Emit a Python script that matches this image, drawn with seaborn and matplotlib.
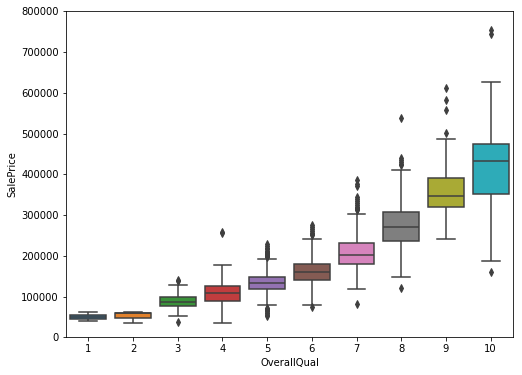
import numpy as np
import pandas as pd
import matplotlib
matplotlib.use("Agg")
import matplotlib.pyplot as plt
import seaborn as sns

# box stats, one entry per OverallQual
quals = ["1", "2", "3", "4", "5", "6", "7", "8", "9", "10"]
whisk_lo = [39300, 35311, 52300, 35100, 79300, 80000, 118500, 148000, 240500, 187200]
q1 = [44725, 47655, 76800, 88300, 118500, 140000, 179100, 236300, 319000, 351700]
med = [50150, 60000, 85600, 109700, 133300, 161200, 202000, 270000, 346800, 432000]
q3 = [55575, 60500, 100000, 126000, 148000, 181000, 231400, 307500, 391000, 473600]
whisk_hi = [61000, 61000, 129000, 177400, 191000, 241500, 302600, 409800, 486700, 626500]
fliers_lo = [[], [], [37600], [], [72500, 70000, 67000, 64000, 60000, 58500, 55000, 52000],
             [75500], [82700], [122000], [], [160000]]
fliers_hi = [[], [], [139000, 141000], [256000, 258000],
             [198000, 200000, 202500, 205000, 207500, 210000, 213000, 216000, 220000, 224000, 229000],
             [250000, 253000, 256000, 260000, 265000, 270000, 275000],
             [312000, 315000, 318000, 320000, 325000, 330000, 335000, 340000, 345000, 372000, 377000, 385000],
             [424000, 426000, 430000, 435000, 440000, 538000],
             [502400, 557000, 583300, 612800],
             [745000, 755000]]

# turn the stats into a sample whose quartiles land exactly on the read values
rows = []
for i, q in enumerate(quals):
    m = 60
    vals = (fliers_lo[i] + [whisk_lo[i]] + [q1[i]] * m + [med[i]] * m
            + [q3[i]] * m + [whisk_hi[i]] + fliers_hi[i])
    for v in vals:
        rows.append((q, v))
df = pd.DataFrame(rows, columns=["OverallQual", "SalePrice"])

gray = "#3f3f3f"
pal = sns.color_palette("tab10", 10, desat=0.75)

fig = plt.figure(figsize=(522 / 72, 375 / 72), dpi=72)
ax = fig.add_axes([66 / 522, 1 - 337.3 / 375, (513 - 66) / 522, (337.3 - 11.3) / 375])
sns.boxplot(data=df, x="OverallQual", y="SalePrice", hue="OverallQual",
            order=quals, hue_order=quals, palette=pal, saturation=1,
            legend=False, linecolor=gray, linewidth=1.5, ax=ax,
            flierprops=dict(marker="d", markerfacecolor=gray, markeredgecolor=gray,
                            markersize=5))
ax.set_ylim(0, 800000)
ax.set_yticks(range(0, 800001, 100000))
ax.set_yticklabels([str(t) for t in range(0, 800001, 100000)])

fig.savefig("out.png", dpi=72)
